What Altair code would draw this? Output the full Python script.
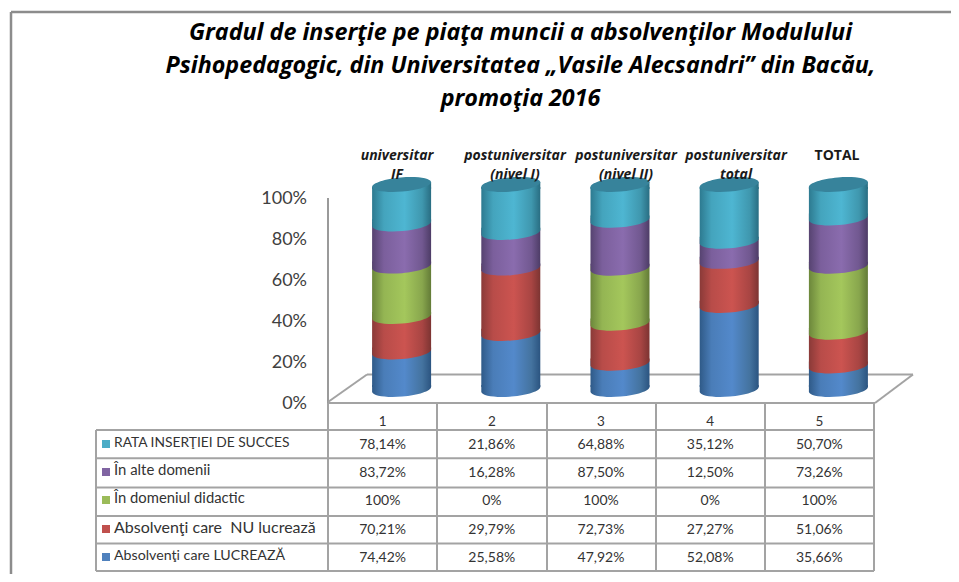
import altair as alt
import pandas as pd

# ---- data ----
categories = ["1", "2", "3", "4", "5"]
rata = [78.14, 21.86, 64.88, 35.12, 50.70]
alte = [83.72, 16.28, 87.50, 12.50, 73.26]
didactic = [100, 0, 100, 0, 100]
nu_lucreaza = [70.21, 29.79, 72.73, 27.27, 51.06]
lucreaza = [74.42, 25.58, 47.92, 52.08, 35.66]

rata_txt = ["78,14%", "21,86%", "64,88%", "35,12%", "50,70%"]
alte_txt = ["83,72%", "16,28%", "87,50%", "12,50%", "73,26%"]
didactic_txt = ["100%", "0%", "100%", "0%", "100%"]
nu_txt = ["70,21%", "29,79%", "72,73%", "27,27%", "51,06%"]
lucreaza_txt = ["74,42%", "25,58%", "47,92%", "52,08%", "35,66%"]

series_names = [
    "Absolvenţi care LUCREAZĂ",
    "Absolvenţi care \u00a0NU lucrează",
    "În domeniul didactic",
    "În alte domenii",
    "RATA INSERŢIEI DE SUCCES",
]
headers = [
    "universitar\nIF",
    "postuniversitar\n(nivel I)",
    "postuniversitar\n(nivel II)",
    "postuniversitar\ntotal",
    "TOTAL",
]
title_lines = [
    "Gradul de inserţie pe piaţa muncii a absolvenţilor Modulului",
    "Psihopedagogic, din Universitatea „Vasile Alecsandri” din Bacău,",
    "promoţia 2016",
]
y_ticks = [0, 0.2, 0.4, 0.6, 0.8, 1.0]

# ---- styles and layout ----
values = [lucreaza, nu_lucreaza, didactic, alte, rata]
texts = [lucreaza_txt, nu_txt, didactic_txt, alte_txt, rata_txt]
key_colors = ["#4f81bd", "#c0504d", "#9bbb59", "#8064a2", "#4bacc6"]
shades = [
    ("#2f5a88", "#4a7db8", "#5389cb", "#44739f", "#2b5480"),
    ("#8a3a38", "#b84c49", "#cc5450", "#a84543", "#7c3432"),
    ("#6c873b", "#94b553", "#a4c75c", "#88a64d", "#637b37"),
    ("#564370", "#7b5f9c", "#8a6cae", "#715890", "#4d3c66"),
    ("#2d7a90", "#44a4bd", "#4eb6d2", "#3f97ae", "#296d82"),
]
cap_color = "#37839b"
LINE = "#a3a3a3"
FONT = "Lato"
HEAD_FONT = "Open Sans"


def X(v):  # picture x to chart x
    return v - 8


def Y(v):
    return v - 8


def grad(c):
    offsets = [0, 0.2, 0.55, 0.85, 1]
    return alt.Gradient(
        gradient="linear",
        stops=[alt.GradientStop(color=col, offset=o) for col, o in zip(c, offsets)],
        x1=0, x2=1, y1=0, y2=0,
    )


W, H = 943, 566
CYL = 59
DX, DY, TILT = 19, -14, 2.5
SIZE = CYL ** 2
t = TILT / (CYL / 2)
lap = t + 0.07
ry = 7.3 / (CYL / 2)
BASE = f"M-1,{t:.3f} A1.004,{ry:.3f} -4.85 0 0 1,{-t:.3f} L1,{-lap:.3f} L-1,{-lap:.3f} Z"
CAP = f"M-1,{t:.3f} A1.004,{ry:.3f} -4.85 0 0 1,{-t:.3f} A1.004,{ry:.3f} -4.85 0 0 -1,{t:.3f} Z"
WEDGE = f"M-1,{t:.3f} L1,{-t:.3f} L1,{lap:.3f} L-1,{lap:.3f} Z"

xs = alt.Scale(type="band", domain=categories, range=[X(328), X(874)], paddingInner=0, paddingOuter=0)
ys = alt.Scale(domain=[0, 1], range=[Y(403.5), Y(198.5)], nice=False)
x_enc = alt.X("cat:N", scale=xs, axis=None)

rows = []
for i, cat in enumerate(categories):
    total = sum(s[i] for s in values)
    cum = 0.0
    for j, s in enumerate(values):
        share = s[i] / total
        rows.append({"cat": cat, "series": j, "base": cum, "top": cum + share, "value": s[i]})
        cum += share
df = pd.DataFrame(rows)


def seg(x1, y1, x2, y2, color=LINE, width=2):
    return alt.Chart(pd.DataFrame({"k": [0]})).mark_rule(
        color=color, strokeWidth=width
    ).encode(
        x=alt.value(X(x1)), x2=alt.value(X(x2)), y=alt.value(Y(y1)), y2=alt.value(Y(y2))
    )


layers = []

# y axis labels and line
layers.append(
    alt.Chart(pd.DataFrame({"v": y_ticks})).mark_text(
        font=FONT, fontSize=18, color="#404040", align="right", baseline="middle",
    ).encode(
        x=alt.value(X(307)),
        y=alt.Y("v:Q", scale=ys, axis=None),
        text=alt.Text("v:Q", format=".0%"),
    )
)
layers += [
    seg(328, 198, 328, 403, "#9a9a9a", 2),
    seg(11, 12, 959, 12, "#8c8c8c", 2.5),
    seg(11, 12, 11, 582, "#8c8c8c", 2.5),
    seg(328, 402, 367, 374.5),
    seg(367, 374.5, 913, 374.5),
    seg(913, 374.5, 875, 403),
]

# cylinders, bottom segment first
for j in range(5):
    d = df[(df.series == j) & (df.value > 0)]
    is_top = j == 4
    top_off = DY + TILT if is_top else DY - TILT
    base_ch = alt.Chart(d)
    layers.append(
        base_ch.mark_bar(
            color=grad(shades[j]), width=CYL, xOffset=DX,
            yOffset=top_off, y2Offset=DY - TILT,
        ).encode(
            x=x_enc,
            y=alt.Y("top:Q", scale=ys, axis=None),
            y2="base:Q",
        )
    )
    layers.append(
        base_ch.mark_point(
            shape=BASE, size=SIZE, filled=True, opacity=1, fill=grad(shades[j]),
            strokeWidth=0, xOffset=DX, yOffset=DY,
        ).encode(x=x_enc, y=alt.Y("base:Q", scale=ys, axis=None))
    )

top_df = df[df.series == 4]
layers.append(
    alt.Chart(top_df).mark_point(
        shape=WEDGE, size=SIZE, filled=True, opacity=1, fill=grad(shades[4]),
        strokeWidth=0, xOffset=DX, yOffset=DY,
    ).encode(x=x_enc, y=alt.Y("top:Q", scale=ys, axis=None))
)
layers.append(
    alt.Chart(top_df).mark_point(
        shape=CAP, size=SIZE, filled=True, opacity=1, fill=cap_color,
        strokeWidth=0, xOffset=DX, yOffset=DY,
    ).encode(x=x_enc, y=alt.Y("top:Q", scale=ys, axis=None))
)

# table grid
ROW_LINES = [430, 458.3, 487.5, 516, 543.5, 571]
ROW_CENTERS = [558, 530, 501, 473, 445]
COL_LINES = [328, 437, 547, 656, 765, 874]
for y in ROW_LINES:
    layers.append(seg(96, y, 874, y))
layers.append(seg(328, 403, 875, 403))
layers.append(seg(96, 430, 96, 571))
for x in COL_LINES:
    layers.append(seg(x, 403, x, 571))

# table contents
NAME_SIZE = [14.2, 16, 14.8, 14.9, 13.8]
layers.append(
    alt.Chart(pd.DataFrame({"cat": categories})).mark_text(
        font=FONT, fontSize=13.5, color="#333333", baseline="middle"
    ).encode(x=x_enc, y=alt.value(Y(422)), text="cat:N")
)
for j in range(5):
    d = pd.DataFrame({"cat": categories, "label": texts[j]})
    layers.append(
        alt.Chart(d).mark_text(
            font=FONT, fontSize=14, color="#333333", baseline="middle"
        ).encode(x=x_enc, y=alt.value(Y(ROW_CENTERS[j])), text="label:N")
    )
    layers.append(
        alt.Chart(pd.DataFrame({"k": [series_names[j]]})).mark_square(
            size=64, color=key_colors[j], opacity=1
        ).encode(x=alt.value(X(106)), y=alt.value(Y(ROW_CENTERS[j] - 1)))
    )
    layers.append(
        alt.Chart(pd.DataFrame({"name": [series_names[j]]})).mark_text(
            font=FONT, fontSize=NAME_SIZE[j], color="#333333",
            align="left", baseline="middle",
        ).encode(x=alt.value(X(114)), y=alt.value(Y(ROW_CENTERS[j] - 2)), text="name:N")
    )

# headers above the cylinders
HEADER_DX = [14.4, 23.2, 25, 25.8, 17.6]
for i, h in enumerate(headers):
    d = pd.DataFrame({"cat": [categories[i]], "txt": [h]})
    layers.append(
        alt.Chart(d).mark_text(
            font=HEAD_FONT, fontSize=14, fontWeight="bold",
            fontStyle="normal" if i == 4 else "italic", color="#1a1a1a",
            baseline="middle", lineHeight=19, lineBreak="\n", dx=HEADER_DX[i],
        ).encode(x=x_enc, y=alt.value(Y(156)), text="txt:N")
    )

chart = alt.layer(*layers).properties(
    width=W, height=H, padding=0,
    autosize=alt.AutoSizeParams(type="none"),
    title=alt.TitleParams(
        text=title_lines, font=HEAD_FONT, fontSize=23.3, fontWeight="bold", fontStyle="italic",
        color="#000000", anchor="middle", frame="group", baseline="top",
        dx=41, dy=103, lineHeight=33, offset=0,
    ),
).configure_view(stroke=None)

chart.save("out.html", embed_options={"renderer": "svg", "actions": False})
